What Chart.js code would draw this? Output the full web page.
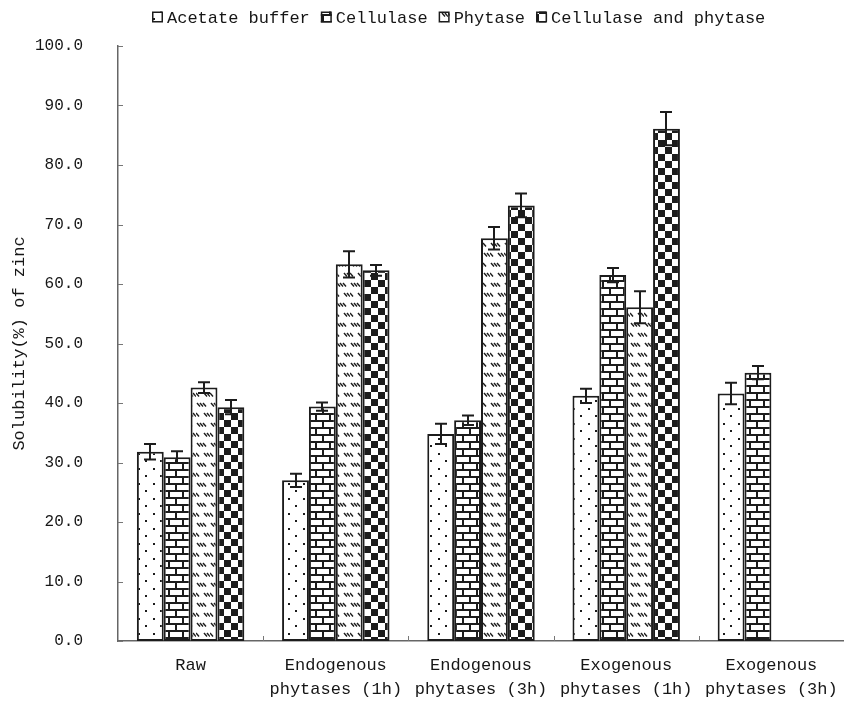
<!DOCTYPE html>
<html>
<head>
<meta charset="utf-8">
<script src="https://cdn.jsdelivr.net/npm/chart.js@4.4.1/dist/chart.umd.min.js"></script>
<style>
  html, body { margin: 0; padding: 0; background: #fff; }
  #wrap { width: 844px; height: 704px; }
</style>
</head>
<body>
<div id="wrap"><canvas id="chart" width="844" height="704"></canvas></div>
<script>
// Treatments along the x axis
const categories = [
  ["Raw"],
  ["Endogenous", "phytases (1h)"],
  ["Endogenous", "phytases (3h)"],
  ["Exogenous", "phytases (1h)"],
  ["Exogenous", "phytases (3h)"]
];
const seriesNames = ["Acetate buffer", "Cellulase", "Phytase", "Cellulase and phytase"];

// Zinc solubility (%) and standard deviations
const acetateBuffer       = [31.8, 27.0, 34.8, 41.2, 41.6];
const acetateBufferErr    = [1.3, 1.1, 1.7, 1.2, 1.8];
const cellulase           = [30.9, 39.4, 37.1, 61.5, 45.1];
const cellulaseErr        = [1.0, 0.7, 0.8, 1.2, 1.1];
const phytase             = [42.6, 63.3, 67.7, 56.1, null];
const phytaseErr          = [0.9, 2.2, 1.9, 2.7, null];
const cellulasePhytase    = [39.3, 62.3, 73.2, 86.1, null];
const cellulasePhytaseErr = [1.2, 0.9, 2.0, 2.8, null];

// Y axis range
const yMin = 0, yMax = 100, yStep = 10;

const FONT_FAMILY = '"Liberation Mono", "DejaVu Sans Mono", monospace';
const INK = '#1c1c1c';
const TEXT = '#161616';

const canvas = document.getElementById('chart');
const ctx = canvas.getContext('2d');

// ---- fill patterns -------------------------------------------------------
function makePattern(w, h, draw) {
  const c = document.createElement('canvas');
  c.width = w; c.height = h;
  const g = c.getContext('2d');
  g.fillStyle = '#fff';
  g.fillRect(0, 0, w, h);
  g.fillStyle = INK;
  g.strokeStyle = INK;
  draw(g);
  return ctx.createPattern(c, 'repeat');
}

const dotPattern = makePattern(15, 15, g => {
  g.fillRect(3, 3, 2, 2);
  g.fillRect(10, 10, 2, 2);
});

const brickPattern = makePattern(14, 14, g => {
  g.fillRect(0, 0, 14, 2);
  g.fillRect(0, 7, 14, 2);
  g.fillRect(0, 0, 2, 7);
  g.fillRect(7, 7, 2, 7);
});

const hatchPattern = makePattern(14, 20, g => {
  g.lineWidth = 1.4;
  g.lineCap = 'butt';
  const row = (y, off) => {
    for (const x0 of [0, 3, 6]) {
      const x = (x0 + off) % 14;
      g.beginPath();
      g.moveTo(x, y);
      g.lineTo(x + 3, y + 3.5);
      g.stroke();
    }
  };
  row(3, 1);
  row(13, 8);
});

const checkerPattern = makePattern(14, 14, g => {
  g.fillRect(0, 0, 7, 7);
  g.fillRect(7, 7, 7, 7);
});

const seriesData = [acetateBuffer, cellulase, phytase, cellulasePhytase];
const seriesErr = [acetateBufferErr, cellulaseErr, phytaseErr, cellulasePhytaseErr];
const seriesFill = [dotPattern, brickPattern, hatchPattern, checkerPattern];

const datasets = seriesNames.map((name, i) => ({
  label: name,
  data: seriesData[i],
  errors: seriesErr[i],
  backgroundColor: seriesFill[i],
  borderColor: INK,
  borderWidth: 2,
  borderSkipped: false,
  categoryPercentage: 0.74,
  barPercentage: 1.0
}));

// ---- plugins -------------------------------------------------------------
const whiteBackground = {
  id: 'whiteBackground',
  beforeDraw(chart) {
    const c = chart.ctx;
    c.save();
    c.fillStyle = '#fff';
    c.fillRect(0, 0, chart.width, chart.height);
    c.restore();
  }
};

// inward tick marks on both axes
const innerTicks = {
  id: 'innerTicks',
  afterDraw(chart) {
    const c = chart.ctx;
    const { left, bottom } = chart.chartArea;
    const ys = chart.scales.y, xs = chart.scales.x;
    c.save();
    c.strokeStyle = '#777';
    c.lineWidth = 1;
    ys.ticks.forEach(t => {
      const py = Math.round(ys.getPixelForValue(t.value)) + 0.5;
      c.beginPath();
      c.moveTo(left, py);
      c.lineTo(left + 5, py);
      c.stroke();
    });
    for (let i = 1; i < categories.length; i++) {
      const px = Math.round((xs.getPixelForValue(i - 1) + xs.getPixelForValue(i)) / 2) + 0.5;
      c.beginPath();
      c.moveTo(px, bottom);
      c.lineTo(px, bottom - 5);
      c.stroke();
    }
    c.restore();
  }
};

const errorBars = {
  id: 'errorBars',
  afterDatasetsDraw(chart) {
    const c = chart.ctx;
    const ys = chart.scales.y;
    c.save();
    c.strokeStyle = INK;
    c.lineWidth = 2;
    chart.data.datasets.forEach((ds, i) => {
      const meta = chart.getDatasetMeta(i);
      meta.data.forEach((bar, j) => {
        const v = ds.data[j], e = ds.errors[j];
        if (v == null || e == null) return;
        const x = Math.round(bar.x);
        const top = ys.getPixelForValue(v + e);
        const bot = ys.getPixelForValue(v - e);
        const cap = 6;
        c.beginPath();
        c.moveTo(x, top); c.lineTo(x, bot);
        c.moveTo(x - cap, top); c.lineTo(x + cap, top);
        c.moveTo(x - cap, bot); c.lineTo(x + cap, bot);
        c.stroke();
      });
    });
    c.restore();
  }
};

const topLegend = {
  id: 'topLegend',
  afterDraw(chart) {
    const c = chart.ctx;
    c.save();
    c.font = '17px ' + FONT_FAMILY;
    c.textBaseline = 'middle';
    c.textAlign = 'left';
    const cy = 17;
    const box = 11;
    let x = 152;
    chart.data.datasets.forEach(ds => {
      c.fillStyle = ds.backgroundColor;
      c.fillRect(x, cy - box / 2, box, box);
      c.strokeStyle = INK;
      c.lineWidth = 1.5;
      c.strokeRect(x + 0.75, cy - box / 2 + 0.75, box - 1.5, box - 1.5);
      x += box + 4;
      c.fillStyle = TEXT;
      c.fillText(ds.label, x, cy + 1);
      x += c.measureText(ds.label).width + 11;
    });
    c.restore();
  }
};

const tickFont = { family: FONT_FAMILY, size: 17, lineHeight: 1.42 };

new Chart(ctx, {
  type: 'bar',
  data: { labels: categories, datasets },
  plugins: [whiteBackground, errorBars, innerTicks, topLegend],
  options: {
    responsive: false,
    animation: false,
    devicePixelRatio: 1,
    layout: { padding: { top: 46, right: -3, bottom: 0, left: 0 } },
    plugins: {
      legend: { display: false },
      tooltip: { enabled: false }
    },
    scales: {
      x: {
        grid: { display: false, drawTicks: false },
        border: { display: true, color: '#666', width: 1.5 },
        ticks: {
          font: tickFont, color: TEXT, padding: 12,
          maxRotation: 0, minRotation: 0, autoSkip: false
        },
        afterFit(scale) {
          scale.height = 63;
          scale.paddingLeft = 0;
          scale.paddingRight = 0;
        }
      },
      y: {
        min: yMin,
        max: yMax,
        grid: { display: false, drawTicks: false },
        border: { display: true, color: '#666', width: 1.5 },
        ticks: {
          stepSize: yStep,
          font: { family: FONT_FAMILY, size: 16 },
          color: TEXT,
          padding: 35,
          callback: v => Number(v).toFixed(1)
        },
        title: {
          display: true,
          text: 'Solubility(%) of zinc',
          font: { family: FONT_FAMILY, size: 17 },
          color: TEXT,
          padding: { top: 9, bottom: 0 }
        },
        afterFit(scale) { scale.width = 118; }
      }
    }
  }
});
</script>
</body>
</html>
